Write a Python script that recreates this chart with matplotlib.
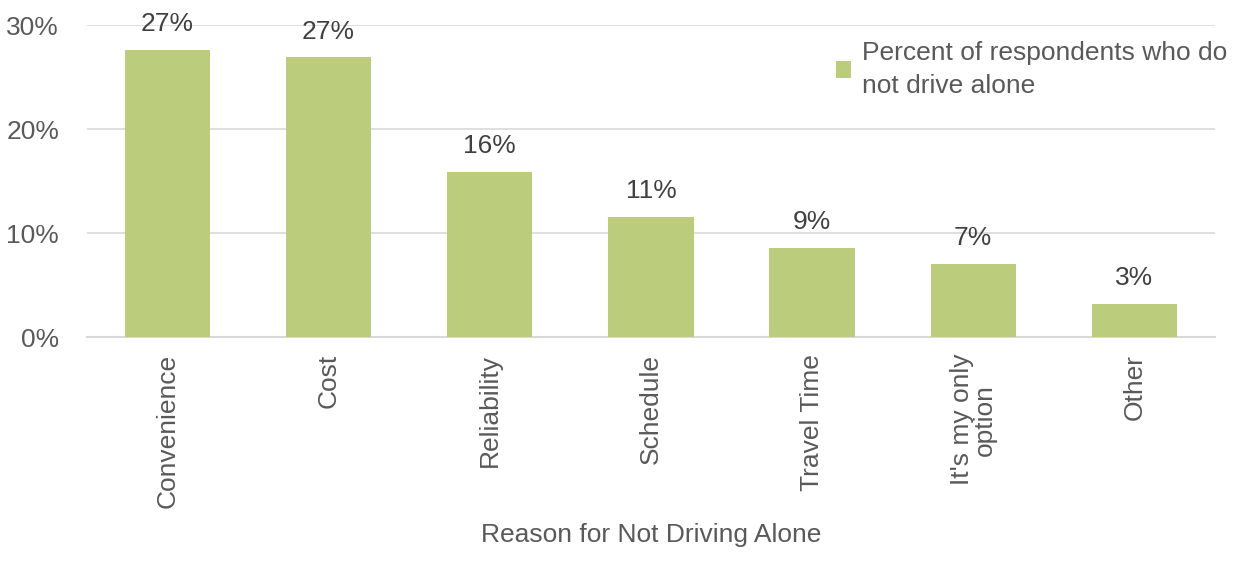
import matplotlib.pyplot as plt
from matplotlib.ticker import FuncFormatter

categories = ["Convenience", "Cost", "Reliability", "Schedule", "Travel Time",
              "It's my only\noption", "Other"]
values = [27.6, 26.9, 15.9, 11.6, 8.6, 7.0, 3.2]
value_labels = ["27%", "27%", "16%", "11%", "9%", "7%", "3%"]
series_name = "Percent of respondents who do\nnot drive alone"

plt.rcParams['font.family'] = ['Liberation Sans', 'DejaVu Sans']

bar_color = "#BBCD7D"
text_color = "#595959"

fig = plt.figure(figsize=(12.41, 5.61), dpi=100)
ax = fig.add_axes([0.070, 0.399, 0.909, 0.556])

x = range(len(categories))
bars = ax.bar(x, values, width=0.53, color=bar_color, label=series_name, zorder=3)

for rect, lab in zip(bars, value_labels):
    ax.annotate(lab, (rect.get_x() + rect.get_width() / 2, rect.get_height()),
                xytext=(0, 10), textcoords="offset points", ha="center", va="bottom",
                fontsize=19, color="#404040")

ax.set_ylim(0, 30)
ax.set_xlim(-0.5, len(categories) - 0.5)
ax.set_yticks([0, 10, 20, 30])
ax.yaxis.set_major_formatter(FuncFormatter(lambda v, p: f"{v:.0f}%"))
ax.grid(axis="y", color="#D9D9D9", linewidth=1.2, zorder=0)
for s in ["top", "right", "left"]:
    ax.spines[s].set_visible(False)
ax.spines["bottom"].set_color("#D9D9D9")
ax.spines["bottom"].set_linewidth(1.5)

ax.set_xticks(list(x))
ax.set_xticklabels(categories, rotation=90, fontsize=19, color=text_color,
                   linespacing=0.95, va="top", multialignment="center")
ax.tick_params(axis="both", length=0, colors=text_color, labelsize=19)
ax.tick_params(axis="x", pad=12)
ax.tick_params(axis="y", pad=20)
ax.set_xlabel("Reason for Not Driving Alone", fontsize=19, color=text_color, labelpad=11)

leg = ax.legend(loc="upper right", bbox_to_anchor=(1.032, 1.025), frameon=False,
                fontsize=19, labelcolor=text_color, handlelength=0.6, handleheight=0.6,
                handletextpad=0.4)
for t in leg.get_texts():
    t.set_linespacing(1.45)

fig.savefig("out.png", dpi=100)
